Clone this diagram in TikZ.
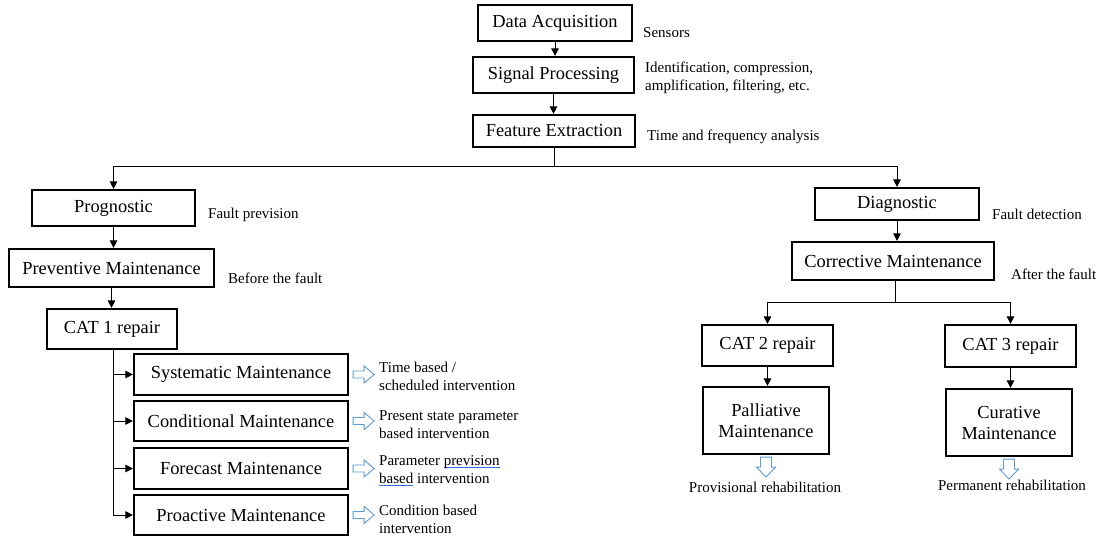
\documentclass[tikz,border=0pt]{standalone}
\usepackage{fontspec}
\setmainfont{Liberation Serif}
\usetikzlibrary{arrows.meta}
\definecolor{hollowblue}{HTML}{5B9BD5}
\definecolor{ulblue}{HTML}{3A6FE0}
\newcommand\mybul[1]{\setbox0\hbox{#1}\leavevmode\rlap{\color{ulblue}\rule[-2.8pt]{\wd0}{0.9pt}}\box0\relax}
\begin{document}
\begin{tikzpicture}[x=1pt,y=-1pt,
 box/.style={draw,line width=2.2pt,inner sep=0pt,align=center,font=\fontsize{18.4}{21}\selectfont},
 lbl/.style={anchor=west,inner sep=0pt,align=left,font=\fontsize{15}{18}\selectfont},
 clbl/.style={inner sep=0pt,align=center,font=\fontsize{15}{18}\selectfont},
 line/.style={line width=1pt},
 conn/.style={line width=1pt,-{Triangle[length=7.5pt,width=7.5pt]}},
 hol/.style={draw=hollowblue,line width=0.9pt,fill=white,line join=miter},
 harrowr/.pic={\draw[hol] (0,-3.5) -- (11,-3.5) -- (11,-8.5) -- (21,0) -- (11,8.5) -- (11,3.5) -- (0,3.5) -- cycle;},
 harrowd/.pic={\draw[hol] (-5.5,0) -- (-5.5,10) -- (-9.5,10) -- (0,20) -- (9.5,10) -- (5.5,10) -- (5.5,0) -- cycle;}]
\useasboundingbox (0,0) rectangle (1103,537);

% top chain
\node[box,minimum width=154pt,minimum height=36pt] (da) at (555,23) {Data Acquisition};
\node[box,minimum width=161pt,minimum height=36pt] (sp) at (553.5,75) {Signal Processing};
\node[box,minimum width=162pt,minimum height=32pt] (fe) at (554,131) {Feature Extraction};

% left branch
\node[box,minimum width=163pt,minimum height=36pt] (prog) at (113.5,208) {Prognostic};
\node[box,minimum width=205pt,minimum height=38pt] (prev) at (111.5,268) {Preventive Maintenance};
\node[box,minimum width=130pt,minimum height=40pt] (cat1) at (112,329) {CAT 1 repair};
\node[box,minimum width=214pt,minimum height=41pt] (sys) at (241,374.5) {Systematic Maintenance};
\node[box,minimum width=214pt,minimum height=40pt] (cond) at (241,421) {Conditional Maintenance};
\node[box,minimum width=214pt,minimum height=41pt] (fore) at (241,468.5) {Forecast Maintenance};
\node[box,minimum width=214pt,minimum height=40pt] (proa) at (241,515) {Proactive Maintenance};

% right branch
\node[box,minimum width=164pt,minimum height=32pt] (diag) at (897,204) {Diagnostic};
\node[box,minimum width=202pt,minimum height=38pt] (corr) at (893,261) {Corrective Maintenance};
\node[box,minimum width=131pt,minimum height=41pt] (cat2) at (767.5,345.5) {CAT 2 repair};
\node[box,minimum width=131pt,minimum height=42pt] (cat3) at (1010.5,346) {CAT 3 repair};
\node[box,minimum width=126pt,minimum height=67pt] (pall) at (766,420.5) {Palliative\\Maintenance};
\node[box,minimum width=126pt,minimum height=67pt] (cur) at (1009,422.5) {Curative\\Maintenance};

% side labels
\node[lbl] (l1) at (643,33) {Sensors};
\node[lbl] (l2) at (645,77.5) {Identification, compression,\\amplification, filtering, etc.};
\node[lbl] (l3) at (647,137) {Time and frequency analysis};
\node[lbl] (l4) at (208,215) {Fault prevision};
\node[lbl] (l5) at (228,278) {Before the fault};
\node[lbl] (l6) at (992,214) {Fault detection};
\node[lbl] (l7) at (1011,274) {After the fault};
\node[lbl] (s1) at (379,376.5) {Time based /\\scheduled intervention};
\node[lbl] (s2) at (379,424.5) {Present state parameter\\based intervention};
\node[lbl] (s3) at (379,471) {Parameter \mybul{prevision}\\\mybul{based} intervention};
\node[lbl] (s4) at (379,519.5) {Condition based\\intervention};
\node[clbl] (r1) at (765,487) {Provisional rehabilitation};
\node[clbl] (r2) at (1012,485) {Permanent rehabilitation};

% connectors top
\draw[conn] (da.south) -- (da.south |- sp.north);
\draw[conn] (sp.south) -- (sp.south |- fe.north);
\coordinate (split) at (554,167);
\draw[line] (fe.south) -- (split);
\draw[conn] (split) -| (prog.north);
\draw[conn] (split) -| (diag.north);

% left connectors
\draw[conn] (prog.south) -- (prog.south |- prev.north);
\draw[conn] (prev.south) -- (prev.south |- cat1.north);
\coordinate (trunk) at (113,349);
\draw[line] (trunk) -- (trunk |- proa.west);
\draw[conn] (trunk |- sys.west) -- (sys.west);
\draw[conn] (trunk |- cond.west) -- (cond.west);
\draw[conn] (trunk |- fore.west) -- (fore.west);
\draw[conn] (trunk |- proa.west) -- (proa.west);

% right connectors
\draw[conn] (diag.south) -- (diag.south |- corr.north);
\coordinate (split2) at (895,303);
\draw[line] (895,280) -- (split2);
\draw[conn] (split2) -| (cat2.north);
\draw[conn] (split2) -| (cat3.north);
\draw[conn] (cat2.south) -- (cat2.south |- pall.north);
\draw[conn] (cat3.south) -- (cat3.south |- cur.north);

% hollow arrows
\pic at ([xshift=4pt]sys.east) {harrowr};
\pic at ([xshift=4pt]cond.east) {harrowr};
\pic at ([xshift=4pt]fore.east) {harrowr};
\pic at ([xshift=4pt]proa.east) {harrowr};
\pic at ([yshift=-2pt]pall.south) {harrowd};
\pic at ([yshift=-2pt]cur.south) {harrowd};
\end{tikzpicture}
\end{document}
